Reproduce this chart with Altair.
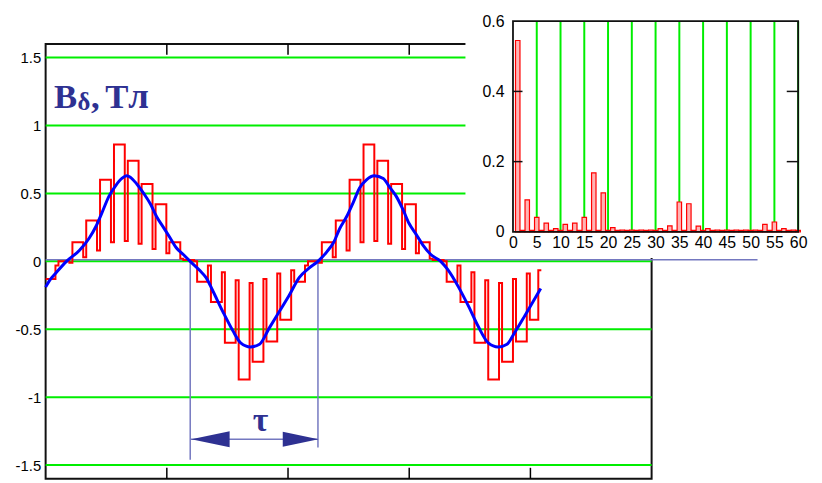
import altair as alt
import pandas as pd

# ---------------- main plot: air-gap flux density B (T) ----------------
# stepped (slotted) curve: start of every tooth, its level, and the dip at the slot opening after it
tooth_start = [0.000, 0.106, 0.221, 0.335, 0.449, 0.564, 0.678, 0.792, 0.907, 1.021,
               1.136, 1.250, 1.364, 1.479, 1.593, 1.708, 1.822, 1.936, 2.051, 2.165,
               2.279, 2.394, 2.508, 2.623, 2.737, 2.851, 2.966, 3.080, 3.194, 3.309,
               3.423, 3.538, 3.652, 3.766, 3.881, 3.995]
tooth_level = [-0.13, 0.00, 0.14, 0.30, 0.60, 0.86, 0.74, 0.57, 0.42, 0.14,
               0.01, -0.15, -0.30, -0.60, -0.87, -0.74, -0.59, -0.43, -0.15, 0.00,
               0.14, 0.30, 0.60, 0.86, 0.74, 0.57, 0.42, 0.14, 0.01, -0.15,
               -0.30, -0.60, -0.87, -0.74, -0.59, -0.43]
slot_dip = [-0.03, -0.01, 0.03, 0.08, 0.14, 0.15, 0.13, 0.09, 0.06, 0.02,
            0.00, -0.03, -0.08, -0.14, -0.16, -0.13, -0.09, -0.065, -0.03, -0.01,
            0.03, 0.08, 0.14, 0.15, 0.13, 0.09, 0.06, 0.02, 0.00, -0.03,
            -0.08, -0.14, -0.16, -0.13, -0.09, -0.065]
slot_open = 0.025
curve_end = 4.09

# smooth (fundamental + 3rd) curve
smooth_x = [0.000, 0.033, 0.090, 0.172, 0.278, 0.359, 0.417, 0.466, 0.523, 0.580,
            0.629, 0.670, 0.752, 0.809, 0.866, 0.915, 0.972, 1.029, 1.078, 1.136,
            1.193, 1.275, 1.324, 1.381, 1.462, 1.544, 1.609, 1.691, 1.765, 1.846,
            1.928, 2.010, 2.092, 2.173, 2.247, 2.320, 2.377, 2.426, 2.484, 2.541,
            2.590, 2.647, 2.712, 2.786, 2.835, 2.892, 2.949, 2.998, 3.056, 3.113,
            3.178, 3.260, 3.317, 3.407, 3.489, 3.570, 3.652, 3.734, 3.807, 3.873,
            3.954, 4.020, 4.085]
smooth_y = [-0.19, -0.14, -0.08, 0.00, 0.08, 0.17, 0.26, 0.36, 0.48, 0.56,
            0.61, 0.63, 0.57, 0.50, 0.42, 0.33, 0.25, 0.17, 0.10, 0.05,
            0.00, -0.07, -0.12, -0.22, -0.37, -0.51, -0.60, -0.63, -0.61, -0.49,
            -0.37, -0.25, -0.12, -0.05, 0.00, 0.07, 0.14, 0.24, 0.33, 0.44,
            0.54, 0.60, 0.63, 0.61, 0.55, 0.48, 0.38, 0.28, 0.20, 0.12,
            0.05, 0.00, -0.06, -0.19, -0.33, -0.48, -0.60, -0.63, -0.61, -0.52,
            -0.40, -0.30, -0.20]

grid_levels = [-1.5, -1.0, -0.5, 0.0, 0.5, 1.0, 1.5]
x_ticks = [1, 2, 3, 4]

# pole pitch annotation
tau_x = [1.193, 2.247]
tau_bottom = [-1.46, -1.37]
tau_arrow_y = -1.31
tau_head_x = [1.36, 2.104]
tau_label_pos = (1.773, -1.25)

# ---------------- inset: harmonic spectrum ----------------
harmonic_order = [1, 2, 3, 4, 5, 6, 7, 8, 9, 10, 11, 12, 13, 14, 15, 16, 17, 18, 19, 20,
                  21, 22, 23, 24, 25, 26, 27, 28, 29, 30, 31, 32, 33, 34, 35, 36, 37, 38, 39, 40,
                  41, 42, 43, 44, 45, 46, 47, 48, 49, 50, 51, 52, 53, 54, 55, 56, 57, 58, 59, 60]
harmonic_amp = [0.545, 0.004, 0.091, 0.004, 0.041, 0.004, 0.025, 0.004, 0.009, 0.004,
                0.021, 0.004, 0.025, 0.004, 0.041, 0.004, 0.168, 0.004, 0.111, 0.004,
                0.012, 0.004, 0.005, 0.004, 0.005, 0.004, 0.005, 0.004, 0.005, 0.004,
                0.009, 0.004, 0.017, 0.004, 0.085, 0.004, 0.080, 0.004, 0.016, 0.004,
                0.009, 0.004, 0.005, 0.004, 0.005, 0.004, 0.005, 0.004, 0.005, 0.004,
                0.005, 0.004, 0.021, 0.004, 0.028, 0.004, 0.009, 0.004, 0.005, 0.004]
inset_grid_x = [5, 10, 15, 20, 25, 30, 35, 40, 45, 50, 55, 60]
inset_x_labels = [0, 5, 10, 15, 20, 25, 30, 35, 40, 45, 50, 55, 60]
inset_y_labels = [0, 0.2, 0.4, 0.6]
inset_y_ticks = [0.2, 0.4]

GREEN = "#00ee00"
RED = "#ff0000"
BLUE = "#0000ff"
NAVY = "#2e3192"
SLATE = "#7478c0"
SANS = "Liberation Sans"
SERIF = "Liberation Serif"

# ---------------- build tables ----------------
rx, ry = [], []
n = len(tooth_start)
for i in range(n):
    s = tooth_start[i]
    e = (tooth_start[i + 1] if i + 1 < n else curve_end) - slot_open
    if i > 0:
        rx.append(s)
        ry.append(slot_dip[i - 1])
    rx += [s, e, e]
    ry += [tooth_level[i], tooth_level[i], slot_dip[i]]
rx.append(curve_end)
ry.append(slot_dip[-1])
red_df = pd.DataFrame({"x": rx, "y": ry, "o": list(range(len(rx)))})
smooth_df = pd.DataFrame({"x": smooth_x, "y": smooth_y})

XS = alt.Scale(domain=[0, 5], nice=False, zero=False)
YS = alt.Scale(domain=[-1.6, 1.6], nice=False, zero=False)
XI = alt.Scale(domain=[0, 60], range=[467, 765], nice=False, zero=False)
YI = alt.Scale(domain=[0, 0.6], range=[189.7, -23], nice=False, zero=False)

y_axis = alt.Axis(values=grid_levels, labelExpr="'' + datum.value", ticks=False, domain=False,
                  grid=False, labelPadding=5, labelFontSize=15, labelFont=SANS,
                  labelColor="black", title=None, orient="left")
xi_axis = alt.Axis(orient="bottom", offset=-249.3, values=inset_x_labels,
                   labelExpr="'' + datum.value", ticks=False, domain=False, grid=False,
                   labelPadding=3, labelFontSize=16, labelFont=SANS, labelColor="black",
                   labelFlush=False, labelOverlap=False, zindex=1, title=None)
yi_axis = alt.Axis(orient="left", offset=-467, values=inset_y_labels,
                   labelExpr="'' + datum.value", ticks=False, domain=False, grid=False,
                   labelPadding=4, labelFontSize=16, labelFont=SANS, labelColor="black",
                   labelFlush=False, labelOverlap=False, zindex=1, title=None)


def mx(f):
    return alt.X(f, scale=XS, axis=None)


def my(f):
    return alt.Y(f, scale=YS, axis=y_axis)


def ix(f):
    return alt.X(f, scale=XI, axis=xi_axis)


def iy(f):
    return alt.Y(f, scale=YI, axis=yi_axis)


grid = alt.Chart(pd.DataFrame({"y": grid_levels, "x0": 0.0, "x1": 5.0})).mark_rule(
    color=GREEN, strokeWidth=2).encode(x=mx("x0:Q"), x2="x1:Q", y=my("y:Q"))

zero_line = alt.Chart(pd.DataFrame({"x0": [0.0], "x1": [5.874], "y": [0.011]})).mark_rule(
    color=SLATE, strokeWidth=1.5).encode(x=mx("x0:Q"), x2="x1:Q", y=my("y:Q"))

tick_df = pd.DataFrame({"x": x_ticks * 2,
                        "y0": [1.6] * 4 + [-1.6] * 4,
                        "y1": [1.52] * 4 + [-1.52] * 4})
ticks = alt.Chart(tick_df).mark_rule(color="black", strokeWidth=1.5).encode(
    x=mx("x:Q"), y=my("y0:Q"), y2="y1:Q")

cover = alt.Chart(pd.DataFrame({"x0": [3.464], "x1": [6.5], "y0": [0.025], "y1": [2.2]})).mark_rect(
    fill="white").encode(x=mx("x0:Q"), x2="x1:Q", y=my("y0:Q"), y2="y1:Q")

tau_v = alt.Chart(pd.DataFrame({"x": tau_x, "y0": [0.0, 0.0], "y1": tau_bottom})).mark_rule(
    color=SLATE, strokeWidth=1.5).encode(x=mx("x:Q"), y=my("y0:Q"), y2="y1:Q")
tau_h = alt.Chart(pd.DataFrame({"x0": [tau_x[0]], "x1": [tau_x[1]], "y": [tau_arrow_y]})).mark_rule(
    color=SLATE, strokeWidth=1.5).encode(x=mx("x0:Q"), x2="x1:Q", y=my("y:Q"))
head_l = alt.Chart(pd.DataFrame({"x": [tau_head_x[0]], "y": [tau_arrow_y]})).mark_point(
    shape="M-1,0L1,-0.42L1,0.42Z", filled=True, size=1500, color=NAVY, opacity=1).encode(
    x=mx("x:Q"), y=my("y:Q"))
head_r = alt.Chart(pd.DataFrame({"x": [tau_head_x[1]], "y": [tau_arrow_y]})).mark_point(
    shape="M1,0L-1,-0.42L-1,0.42Z", filled=True, size=1300, color=NAVY, opacity=1).encode(
    x=mx("x:Q"), y=my("y:Q"))
tau_text = alt.Chart(pd.DataFrame({"x": [tau_label_pos[0]], "y": [tau_label_pos[1]], "t": ["τ"]})).mark_text(
    font=SERIF, fontWeight="bold", fontSize=34, color=NAVY, align="center", baseline="alphabetic").encode(
    x=mx("x:Q"), y=my("y:Q"), text="t:N")

red_line = alt.Chart(red_df).mark_line(color=RED, strokeWidth=2).encode(
    x=mx("x:Q"), y=my("y:Q"), order="o:Q")
blue_line = alt.Chart(smooth_df).mark_line(color=BLUE, strokeWidth=3, interpolate="monotone").encode(
    x=mx("x:Q"), y=my("y:Q"))


def label(txt, x, y, size):
    return alt.Chart(pd.DataFrame({"x": [x], "y": [y], "t": [txt]})).mark_text(
        font=SERIF, fontWeight="bold", fontSize=size, color=NAVY, align="left",
        baseline="alphabetic").encode(x=mx("x:Q"), y=my("y:Q"), text="t:N")


title_parts = [label("B", 0.070, 1.126, 35), label("δ", 0.262, 1.116, 25),
               label(",", 0.375, 1.126, 35), label("Т", 0.492, 1.126, 35),
               label("л", 0.682, 1.126, 37)]

main = alt.layer(grid, ticks, cover, zero_line, tau_v, tau_h, head_l, head_r, tau_text,
                 red_line, blue_line, *title_parts)

# ---------------- inset ----------------
igrid = alt.Chart(pd.DataFrame({"x": inset_grid_x, "y0": 0.0, "y1": 0.6})).mark_rule(
    color=GREEN, strokeWidth=2).encode(x=ix("x:Q"), y=iy("y0:Q"), y2="y1:Q")

bars = alt.Chart(pd.DataFrame({"n": harmonic_order, "a": harmonic_amp})).mark_bar(
    size=4.5, fill="#ffb3b3", stroke=RED, strokeWidth=1.2).encode(x=ix("n:Q"), y=iy("a:Q"))

iframe = alt.Chart(pd.DataFrame({"x0": [0], "x1": [60], "y0": [0.0], "y1": [0.6]})).mark_rect(
    fillOpacity=0, stroke="#111111", strokeWidth=1.8).encode(
    x=ix("x0:Q"), x2="x1:Q", y=iy("y0:Q"), y2="y1:Q")

itick_df = pd.DataFrame({"y": inset_y_ticks * 2,
                         "x0": [0.0, 0.0, 57.6, 57.6],
                         "x1": [2.0, 2.0, 60.0, 60.0]})
iticks = alt.Chart(itick_df).mark_rule(color="#111111", strokeWidth=1.5).encode(
    x=ix("x0:Q"), x2="x1:Q", y=iy("y:Q"))

inset = alt.layer(igrid, bars, iframe, iticks)

chart = alt.layer(main, inset).resolve_scale(x="independent", y="independent").properties(
    width=612, height=439,
    autosize=alt.AutoSizeParams(type="none"),
    padding={"left": 38, "top": 34, "right": 164, "bottom": 0},
).configure_view(stroke="#111111", strokeWidth=2)

chart.save("out.html", embed_options={"renderer": "svg", "actions": False})
